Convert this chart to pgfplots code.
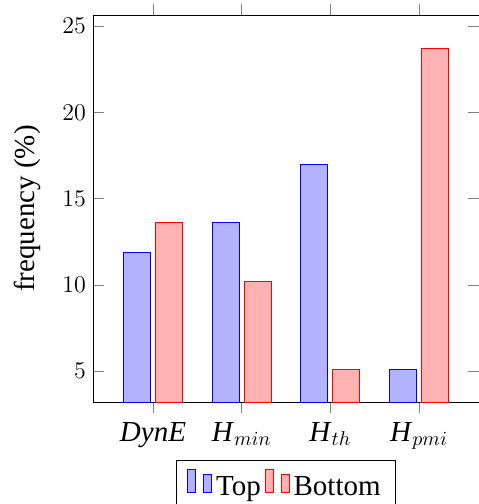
\documentclass[border=0pt]{standalone}
\usepackage{fontspec}
\setmainfont{Liberation Serif}
\usepackage{pgfplots}
\pgfplotsset{compat=1.18}
\usetikzlibrary{calc}
\pgfplotsset{
 /pgfplots/ybar legend/.style={
  /pgfplots/legend image code/.code={%
   \draw[##1,/tikz/.cd,bar width=4pt,yshift=-2.9pt,bar shift=0pt]
     plot coordinates {(0cm,11.5pt) (8pt,9pt)};
  },
 },
}
\begin{document}
\begin{tikzpicture}
\begin{axis}[
 name=ax,
 scale only axis,
 width=193pt, height=193.5pt,
 ybar, bar width=13.5pt,
 xmin=-0.676, xmax=3.676,
 ymin=3.2, ymax=25.65,
 xtick={0,1,2,3},
 xticklabels={\textit{DynE}, \textit{H}$_{min}$, \textit{H}$_{th}$, \textit{H}$_{pmi}$},
 ytick={5,10,15,20,25},
 xtick align=outside,
 ytick align=inside,
 major tick length=5.5pt,
 tick style={gray},
 x tick label style={font=\fontsize{14.5}{17}\selectfont, yshift=-1pt},
 y tick label style={font=\fontsize{11.9}{14}\selectfont},
 ylabel={frequency (\%)},
 ylabel shift=4pt,
 ylabel style={font=\fontsize{14.5}{17}\selectfont},
 legend style={at={(0.5,-0.15)}, anchor=north, legend columns=-1, inner xsep=5.5pt, inner ysep=4.5pt, font=\fontsize{14.5}{17}\selectfont},
]
\addplot[bar shift=-8pt, draw=blue, fill=blue!30] coordinates {(0,11.9) (1,13.6) (2,17.0) (3,5.1)};
\addplot[bar shift=8pt, draw=red, fill=red!30] coordinates {(0,13.6) (1,10.2) (2,5.1) (3,23.7)};
\legend{Top, Bottom}
\end{axis}
\pgfresetboundingbox
\path ($(ax.south west)+(-46.5pt,-51pt)$) rectangle ($(ax.north east)+(0pt,7.5pt)$);
\end{tikzpicture}
\end{document}
